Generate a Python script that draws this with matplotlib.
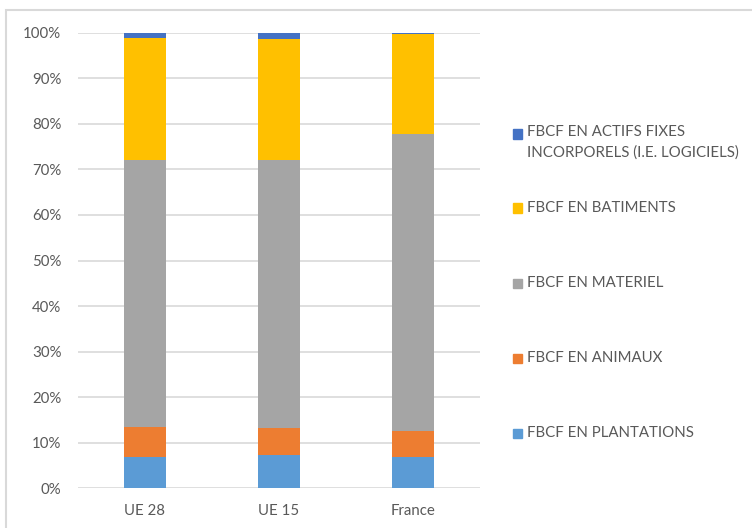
import numpy as np
import matplotlib.pyplot as plt
from matplotlib.patches import Rectangle

plt.rcParams['font.family'] = ['Lato', 'DejaVu Sans']

# Part de chaque type de FBCF (en %)
categories = ["UE 28", "UE 15", "France"]
plantations = [6.8, 7.2, 6.8]
animaux = [6.6, 6.0, 5.8]
materiel = [58.6, 58.8, 65.2]
batiments = [26.9, 26.6, 22.0]
logiciels = [1.1, 1.4, 0.2]

series = [
    ("FBCF EN PLANTATIONS", plantations, "#5B9BD5"),
    ("FBCF EN ANIMAUX", animaux, "#ED7D31"),
    ("FBCF EN MATERIEL", materiel, "#A5A5A5"),
    ("FBCF EN BATIMENTS", batiments, "#FFC000"),
    ("FBCF EN ACTIFS FIXES\nINCORPORELS (I.E. LOGICIELS)", logiciels, "#4472C4"),
]

TXT = "#595959"
GRID = "#D9D9D9"
W, H = 752, 528
FS = 10.8

fig = plt.figure(figsize=(W / 100, H / 100), dpi=100)
ax = fig.add_axes([78 / W, 1 - 488.3 / H, 402 / W, 455.6 / H])

x = np.arange(len(categories))
bottom = np.zeros(len(categories))
for label, vals, color in series:
    vals = np.array(vals)
    ax.bar(x, vals, 0.31, bottom=bottom, color=color, zorder=3)
    bottom += vals

ax.set_xlim(-0.5, 2.5)
ax.set_ylim(0, 100)
ax.set_yticks(range(0, 101, 10))
ax.set_yticklabels([f"{v}%" for v in range(0, 101, 10)])
ax.set_xticks(x)
ax.set_xticklabels(categories)
ax.tick_params(axis='both', length=0, labelcolor=TXT, labelsize=FS)
ax.tick_params(axis='y', pad=12)
ax.tick_params(axis='x', pad=11)
ax.grid(axis='y', color=GRID, linewidth=1.2, zorder=0)
for s in ax.spines.values():
    s.set_visible(False)

# cadre du graphique
fig.patches.append(Rectangle((6 / W, -0.1), 1.2, 1 - 10 / H + 0.1,
                             transform=fig.transFigure, fill=False,
                             edgecolor=GRID, linewidth=1.5))

# legende a droite
leg_y = [433, 358, 283, 208, 134]
for (label, vals, color), yy in zip(series, leg_y):
    fig.patches.append(Rectangle((513 / W, 1 - (yy + 4.5) / H), 9 / W, 9 / H,
                                 transform=fig.transFigure, color=color))
    if "\n" in label:
        fig.text(527 / W, 1 - (yy - 9) / H, label, color=TXT, fontsize=FS,
                 va='top', ha='left', linespacing=1.55)
    else:
        fig.text(527 / W, 1 - yy / H, label, color=TXT, fontsize=FS,
                 va='center', ha='left')

fig.savefig("out.png", dpi=100)
